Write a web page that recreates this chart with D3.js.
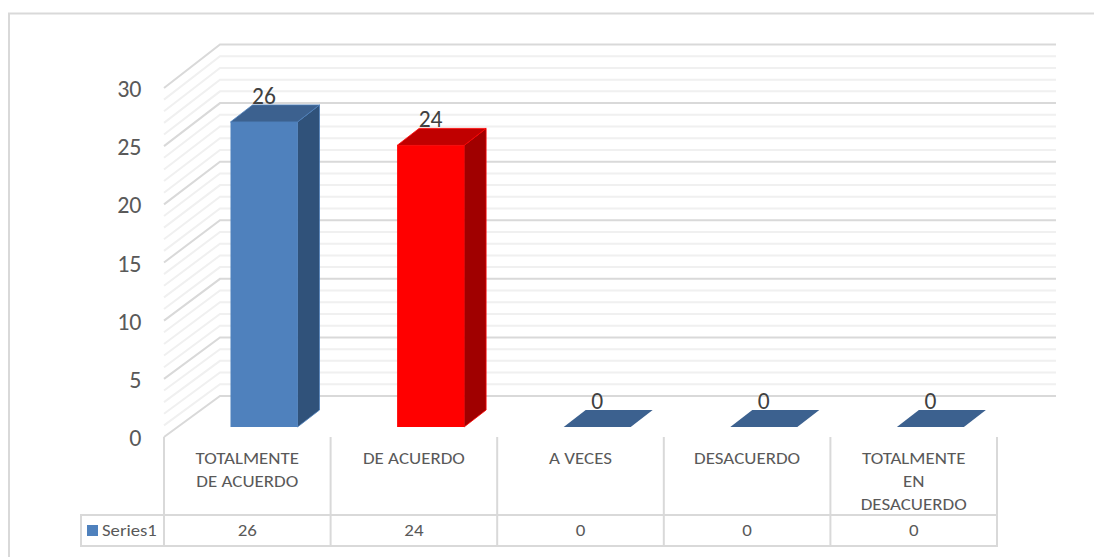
<!DOCTYPE html>
<html><head><meta charset="utf-8">
<script src="https://cdn.jsdelivr.net/npm/d3@7/dist/d3.min.js"></script>
<style>html,body{margin:0;padding:0;background:#fff}svg{display:block}text{font-family:Carlito,"Liberation Sans","Open Sans",sans-serif}</style>
</head><body><svg id="c" width="1094" height="557"></svg>
<script>
const categories=[["TOTALMENTE","DE ACUERDO"],["DE ACUERDO"],["A VECES"],["DESACUERDO"],["TOTALMENTE","EN","DESACUERDO"]];
const values=[26,24,0,0,0];
const yTicks=[0,5,10,15,20,25,30];
const minorTicks=d3.range(0,31);
const seriesName="Series1";
const barFront=["#4f81bd","#ff0000","#4f81bd","#4f81bd","#4f81bd"];
const barTop=["#3c618f","#c00000","#3c618f","#3c618f","#3c618f"];
const barSide=["#30527a","#a00000","#30527a","#30527a","#30527a"];
const barEdge=["#4f81bd","#ff0000","#4f81bd","#4f81bd","#4f81bd"];

const svg=d3.select("#c");
const grey="#595959";
const x=d3.scaleBand().domain(d3.range(5)).range([164,997]);
const yFront=d3.scaleLinear().domain([0,30]).range([437,88]);
const yBack=d3.scaleLinear().domain([0,30]).range([396,44.5]);
const yBar=d3.scaleLinear().domain([0,30]).range([427,75]);
const backL=220,backR=1056,frontL=164;

svg.append("path").attr("fill","none").attr("stroke","#d9d9d9").attr("stroke-width",2).attr("d","M9,557V13.5H1094");

const draw=(t,col,w)=>{
 svg.append("path").attr("fill","none").attr("stroke",col).attr("stroke-width",w)
  .attr("d",`M${frontL},${yFront(t)}L${backL},${yBack(t)}L${backR},${yBack(t)}`);
};
minorTicks.filter(t=>t%5).forEach(t=>draw(t,"#f0f0f0",2));
yTicks.forEach(t=>draw(t,"#d9d9d9",2));

yTicks.forEach(t=>svg.append("text").attr("x",141.5).attr("y",yFront(t)+9).attr("text-anchor","end")
  .attr("font-size",24).attr("fill",grey).text(t));

// bars
const dw=67,dx=22,dy=17;
values.forEach((v,i)=>{
 const x0=x(i)+66.5, x1=x0+dw, yb=yBar(0), yt=yBar(v);
 const g=svg.append("g");
 if(v>0){
  g.append("polygon").attr("points",[[x1,yb],[x1+dx,yb-dy],[x1+dx,yt-dy],[x1,yt]].join(" ")).attr("fill",barSide[i]).attr("stroke",barEdge[i]).attr("stroke-width",.8);
  g.append("rect").attr("x",x0).attr("y",yt).attr("width",dw).attr("height",yb-yt).attr("fill",barFront[i]);
 }
 g.append("polygon").attr("points",[[x0,yt],[x0+dx,yt-dy],[x1+dx,yt-dy],[x1,yt]].join(" ")).attr("fill",barTop[i]).attr("stroke",v>0?barEdge[i]:"none").attr("stroke-width",.8);
 svg.append("text").attr("x",x0+33.5).attr("y",yt-dy-1).attr("text-anchor","middle").attr("font-size",23.5).attr("fill","#404040").text(v);
});

// data table
const line=(x1,y1,x2,y2)=>svg.append("line").attr("x1",x1).attr("y1",y1).attr("x2",x2).attr("y2",y2).attr("stroke","#d9d9d9").attr("stroke-width",2);
d3.range(6).forEach(i=>{const xx=i<5?x(i):x.range()[1];line(xx,437,xx,546)});
line(80,515,998,515);line(80,546,998,546);line(81,515,81,546);
const label=(px,py,txt,size,anchor)=>svg.append("text").attr("transform",`translate(${px},${py}) scale(1.1,1)`).attr("text-anchor",anchor).attr("font-size",size).attr("fill",grey).text(txt);
categories.forEach((c,i)=>{
 c.forEach((s,j)=>label(x(i)+x.bandwidth()/2,464+j*23,s,17.2,"middle"));
 label(x(i)+x.bandwidth()/2,536,values[i],17.2,"middle");
});
svg.append("rect").attr("x",87).attr("y",525).attr("width",11).attr("height",11).attr("fill",barFront[0]);
label(102,536,seriesName,17,"start");
</script></body></html>
